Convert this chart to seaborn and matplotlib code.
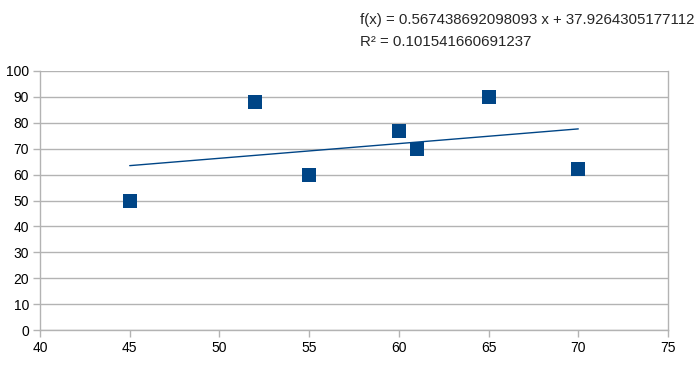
import numpy as np
import pandas as pd
import matplotlib
matplotlib.use('Agg')
import matplotlib.pyplot as plt
import seaborn as sns

# values
x_vals = [45, 52, 55, 60, 61, 65, 70]
y_vals = [50, 88, 60, 77, 70, 90, 62]
x_ticks = [40, 45, 50, 55, 60, 65, 70, 75]
y_ticks = [0, 10, 20, 30, 40, 50, 60, 70, 80, 90, 100]
eq_text = "f(x) = 0.567438692098093 x + 37.9264305177112"
r2_text = "R² = 0.101541660691237"

df = pd.DataFrame({'x': x_vals, 'y': y_vals})

sns.set_theme(style='white')
plt.rcParams['font.family'] = ['Liberation Sans', 'DejaVu Sans']

blue = '#004586'
grid = '#b3b3b3'

fig = plt.figure(figsize=(7, 3.84), dpi=100)
ax = fig.add_axes([40/700, 1 - 330/384, 628/700, 259/384])

for t in y_ticks:
    ax.axhline(t, color=grid, lw=1, zorder=0)

# linear trend line over the data range
slope, icpt = np.polyfit(df.x, df.y, 1)
tx = np.array([min(x_vals), max(x_vals)])
sns.lineplot(x=tx, y=slope * tx + icpt, color=blue, lw=1, ax=ax, zorder=2)

sns.scatterplot(data=df, x='x', y='y', marker='s', s=90, color=blue,
                edgecolor=blue, linewidth=0, ax=ax, zorder=3)

ax.set_xlim(40, 75)
ax.set_ylim(0, 100)
ax.set_xticks(x_ticks)
ax.set_yticks(y_ticks)
ax.set_xlabel('')
ax.set_ylabel('')
ax.tick_params(axis='both', labelsize=10, colors=grid, labelcolor='black',
               length=5, width=1, direction='out', bottom=True, left=True, pad=3)
for s in ax.spines.values():
    s.set_color(grid)
    s.set_linewidth(1)
ax.spines['top'].set_visible(False)

fig.text(360/700, 1 - 20/384, eq_text, fontsize=10.8, va='center', ha='left')
fig.text(360/700, 1 - 42/384, r2_text, fontsize=10.8, va='center', ha='left')

fig.savefig('out.png', dpi=100)
